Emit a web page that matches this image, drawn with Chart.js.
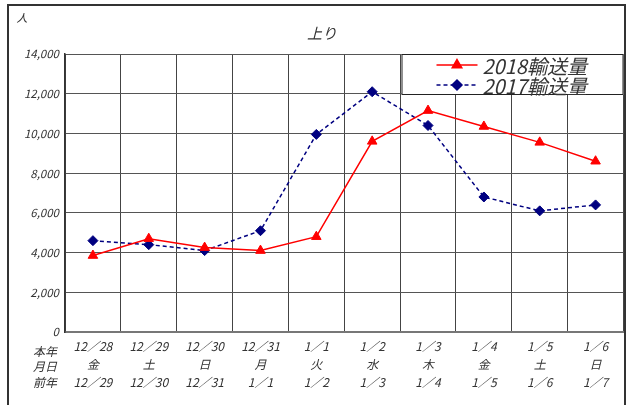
<!DOCTYPE html>
<html><head><meta charset="utf-8">
<script src="https://cdn.jsdelivr.net/npm/chart.js@4/dist/chart.umd.min.js"></script>
<style>html,body{margin:0;padding:0;background:#fff;overflow:hidden}#wrap{width:630px;height:405px;position:relative}</style>
</head><body><div id="wrap"><canvas id="c" width="630" height="405"></canvas></div>
<script>
const dates = ['12／28','12／29','12／30','12／31','1／1','1／2','1／3','1／4','1／5','1／6'];
const weekdays = ['金','土','日','月','火','水','木','金','土','日'];
const prevDates = ['12／29','12／30','12／31','1／1','1／2','1／3','1／4','1／5','1／6','1／7'];
const series2018 = [3850, 4700, 4250, 4100, 4800, 9600, 11150, 10350, 9550, 8600];
const series2017 = [4600, 4400, 4100, 5100, 9950, 12100, 10400, 6800, 6100, 6400];
const seriesNames = ['2018輸送量', '2017輸送量'];
const rowLabels = ['本年', '月日', '前年'];
const chartTitle = '上り';
const unitLabel = '人';
const yMin = 0, yMax = 14000, yStep = 2000;

const FONT = "'Noto Sans CJK JP', 'Noto Sans', sans-serif";
const TXT = '#333';

const labels = dates.map((d, i) => [d, weekdays[i], prevDates[i]]);

const framePlugin = {
  id: 'frame',
  beforeDraw(chart) {
    const ctx = chart.ctx;
    ctx.save();
    ctx.fillStyle = '#fff';
    ctx.fillRect(0, 0, chart.width, chart.height);
    ctx.strokeStyle = '#333';
    ctx.lineWidth = 2;
    ctx.strokeRect(8, 5, 617, 430);
    ctx.restore();
  },
  afterDraw(chart) {
    const ctx = chart.ctx;
    ctx.save();
    ctx.fillStyle = TXT;
    ctx.textAlign = 'center';
    ctx.textBaseline = 'middle';
    ctx.font = 'italic 11px ' + FONT;
    ctx.fillText(unitLabel, 22, 18);
    ctx.font = 'italic 15px ' + FONT;
    ctx.fillText(chartTitle, 322, 33);
    ctx.font = 'italic 12px ' + FONT;
    const ys = [351, 366, 382];
    rowLabels.forEach((t, i) => ctx.fillText(t, 45, ys[i]));
    ctx.restore();
  }
};

const legendPlugin = {
  id: 'boxLegend',
  afterDatasetsDraw(chart) {
    const ctx = chart.ctx;
    const ca = chart.chartArea;
    const w = 222, h = 41;
    const x = ca.right - w, y = ca.top;
    ctx.save();
    ctx.fillStyle = '#fff';
    ctx.fillRect(x, y, w, h);
    ctx.strokeStyle = '#222';
    ctx.lineWidth = 1;
    ctx.strokeRect(x + 0.5, y + 0.5, w - 1, h - 1);
    chart.data.datasets.forEach((ds, i) => {
      const cy = y + 11 + i * 20;
      const lx0 = x + 35, lx1 = x + 76, mx = (lx0 + lx1) / 2;
      ctx.strokeStyle = ds.borderColor;
      ctx.lineWidth = ds.borderWidth;
      ctx.setLineDash(ds.borderDash || []);
      ctx.beginPath(); ctx.moveTo(lx0, cy); ctx.lineTo(lx1, cy); ctx.stroke();
      ctx.setLineDash([]);
      Chart.helpers.drawPoint(ctx, {pointStyle: ds.pointStyle, radius: ds.pointRadius, borderWidth: 1, rotation: 0}, mx, cy);
      ctx.fillStyle = ds.pointBackgroundColor;
      ctx.fill();
      ctx.fillStyle = TXT;
      ctx.font = 'italic 20px ' + FONT;
      ctx.textAlign = 'left';
      ctx.textBaseline = 'middle';
      ctx.fillText(ds.label, x + 81, cy + 1);
    });
    ctx.restore();
  }
};

new Chart(document.getElementById('c'), {
  type: 'line',
  data: {
    labels: labels,
    datasets: [
      {
        label: seriesNames[0], data: series2018,
        borderColor: '#ff0000', backgroundColor: '#ff0000',
        pointBackgroundColor: '#ff0000', pointBorderColor: '#ff0000',
        borderWidth: 1.5, pointStyle: 'triangle', pointRadius: 5.5, pointBorderWidth: 1,
        tension: 0, fill: false
      },
      {
        label: seriesNames[1], data: series2017,
        borderColor: '#000080', backgroundColor: '#000080',
        pointBackgroundColor: '#000080', pointBorderColor: '#000080',
        borderWidth: 1.5, borderDash: [4, 3], pointStyle: 'rectRot', pointRadius: 5, pointBorderWidth: 1,
        tension: 0, fill: false
      }
    ]
  },
  options: {
    responsive: false,
    animation: false,
    devicePixelRatio: 1,
    layout: {padding: {top: 54, right: 6, left: 0, bottom: 0}},
    plugins: {legend: {display: false}, title: {display: false}, tooltip: {enabled: false}},
    scales: {
      x: {
        offset: true,
        grid: {offset: true, color: '#444', lineWidth: 1, drawTicks: false},
        border: {color: '#777', width: 2},
        ticks: {
          color: TXT, padding: 5, maxRotation: 0, autoSkip: false,
          font: {family: FONT, size: 12, style: 'italic', lineHeight: '18px'}
        },
        afterFit(s) { s.height = 73; }
      },
      y: {
        min: yMin, max: yMax,
        grid: {color: '#555', lineWidth: 1, drawTicks: false},
        border: {color: '#333', width: 1.5},
        ticks: {
          stepSize: yStep, color: TXT, padding: 6,
          font: {family: FONT, size: 11.5, style: 'italic'},
          callback: v => Number(v).toLocaleString('en-US')
        },
        afterFit(s) { s.width = 65; }
      }
    }
  },
  plugins: [framePlugin, legendPlugin]
});
</script></body></html>
